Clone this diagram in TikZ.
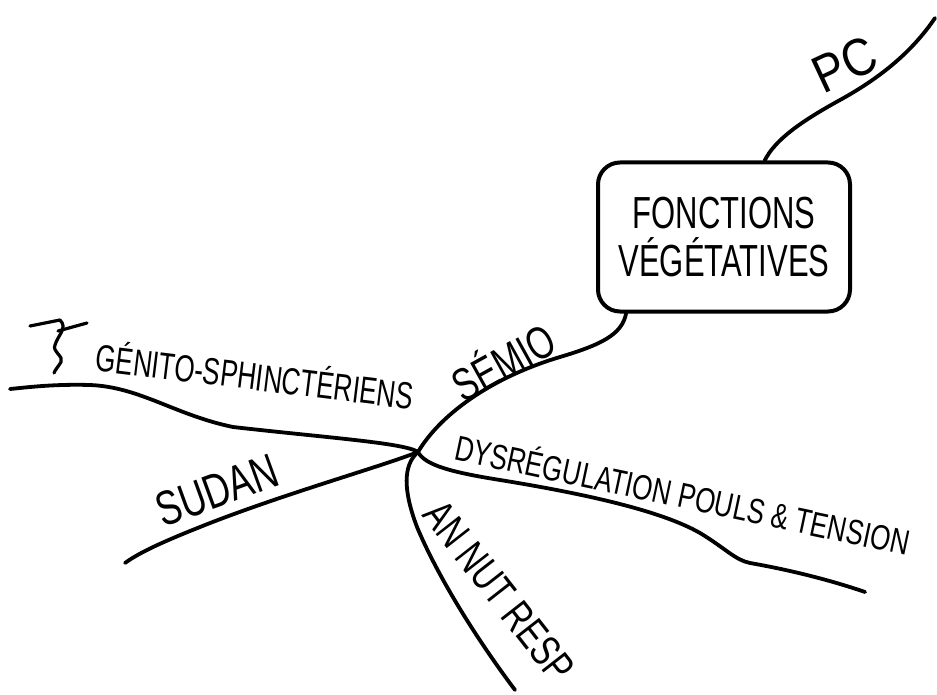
\documentclass[tikz,border=0pt]{standalone}
\usepackage{fontspec}
\setmainfont{Liberation Sans}
\usepackage{graphicx}
\newcommand{\tallt}[2][1.35]{\scalebox{1}[#1]{#2}}
\begin{document}
\begin{tikzpicture}[x=1pt,y=-1pt,
  branch/.style={line width=3.8pt, line cap=round, line join=round},
  lbl/.style={inner sep=0pt, font=\fontsize{26}{30}\selectfont},
  fbox/.style={draw, line width=4pt, rounded corners=22pt, minimum width=252pt, minimum height=149pt, align=center, inner sep=0pt, font=\fontsize{31}{40}\selectfont}]
\fill[white] (0,0) rectangle (937,695);
\useasboundingbox (0,0) rectangle (937,695);

\node[fbox] (fv) at (724,237) {\tallt[1.45]{FONCTIONS}\\[8pt]\tallt[1.45]{VÉGÉTATIVES}};

\coordinate (hub) at (418,452);
\coordinate (pcend) at (935,18);
\coordinate (gend) at (10,389);
\coordinate (send) at (125,563);
\coordinate (dend) at (865,592);
\coordinate (aend) at (515,690);

\draw[branch] (fv.62) .. controls (775,140) and (800,122) .. (840,100) .. controls (880,78) and (912,52) .. (pcend);
\draw[branch] (fv.218) .. controls (622,335) and (600,345) .. (560,357) .. controls (490,378) and (440,415) .. (hub);
\draw[branch] (hub) .. controls (405,443) and (330,438) .. (233,427) .. controls (175,415) and (140,387) .. (90,385) .. controls (55,384) and (30,387) .. (gend);
\draw[branch] (hub) .. controls (380,467) and (280,495) .. (200,527) .. controls (165,541) and (140,552) .. (send);
\draw[branch] (hub) .. controls (425,465) and (450,472) .. (500,480) .. controls (580,493) and (660,510) .. (700,533) .. controls (725,548) and (735,560) .. (750,563) .. controls (790,570) and (830,580) .. (dend);
\draw[branch] (hub) .. controls (403,465) and (403,490) .. (417,527) .. controls (435,570) and (470,630) .. (aend);

\draw[branch, line width=3.2pt] (30,326) -- (60,320) .. controls (68,328) and (58,335) .. (55,345) .. controls (52,352) and (64,356) .. (61,362) .. controls (58,367) and (55,370) .. (54,373);
\draw[branch, line width=3.2pt] (58,331) -- (87,323);

\node[lbl, font=\fontsize{46}{50}\selectfont, rotate=25] (pc) at (845,64) {\tallt[1.15]{PC}};
\node[lbl, font=\fontsize{34}{38}\selectfont, rotate=29] (semio) at (502,360) {\tallt{SÉMIO}};
\node[lbl, rotate=-7] (gen) at (255,374) {\tallt[1.45]{GÉNITO-SPHINCTÉRIENS}};
\node[lbl, font=\fontsize{36}{40}\selectfont, rotate=20] (sud) at (217,490) {\tallt{SUDAN}};
\node[lbl, rotate=-12] (dys) at (683,493) {\tallt{DYSRÉGULATION POULS \& TENSION}};
\node[lbl, font=\fontsize{32}{36}\selectfont, rotate=-52] (an) at (499,591) {\tallt{AN NUT RESP}};
\end{tikzpicture}
\end{document}
